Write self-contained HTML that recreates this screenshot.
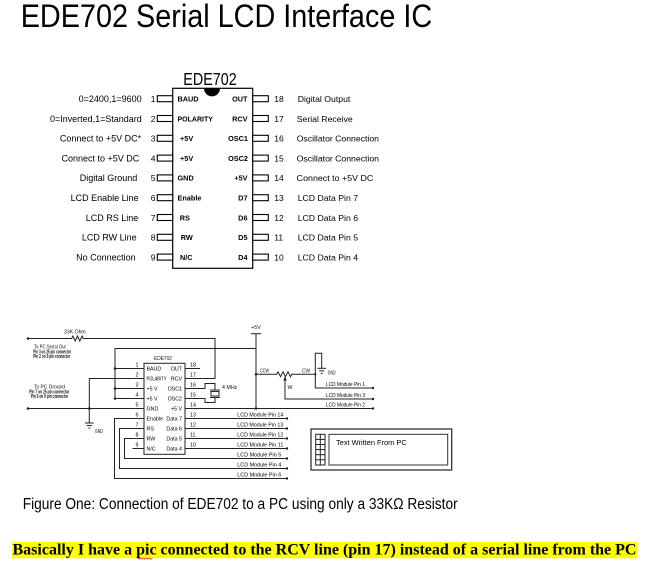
<!DOCTYPE html>
<html><head><meta charset="utf-8"><style>
html,body{margin:0;padding:0;background:#fff;}
svg{display:block;}
text{font-family:"Liberation Sans",sans-serif;fill:#000;}
.s{font-size:5.3px;fill:#111;}
.b{font-weight:bold;}
.ln{stroke:#222;stroke-width:1;fill:none;}
</style></head><body>
<svg width="650" height="563" viewBox="0 0 650 563" xmlns="http://www.w3.org/2000/svg">
<rect width="650" height="563" fill="#fff"/>
<!-- Title -->
<text x="20.7" y="27" font-size="32" textLength="411.5" lengthAdjust="spacingAndGlyphs">EDE702 Serial LCD Interface IC</text>

<!-- Pinout diagram -->
<text x="183.3" y="85" font-size="17.5" textLength="53.4" lengthAdjust="spacingAndGlyphs">EDE702</text>
<rect x="172.7" y="88.3" width="80" height="180" fill="#fff" stroke="#000" stroke-width="1.2"/>
<path d="M204,88.3 A8,8 0 0 0 220,88.3 Z" fill="#000"/>
<g stroke="#000" stroke-width="1.1" fill="#fff">
<rect x="157.3" y="95.7" width="15.4" height="6"/>
<rect x="157.3" y="115.5" width="15.4" height="6"/>
<rect x="157.3" y="135.3" width="15.4" height="6"/>
<rect x="157.3" y="155.1" width="15.4" height="6"/>
<rect x="157.3" y="174.9" width="15.4" height="6"/>
<rect x="157.3" y="194.7" width="15.4" height="6"/>
<rect x="157.3" y="214.5" width="15.4" height="6"/>
<rect x="157.3" y="234.3" width="15.4" height="6"/>
<rect x="157.3" y="254.1" width="15.4" height="6"/>
<rect x="252.7" y="95.7" width="15.6" height="6"/>
<rect x="252.7" y="115.5" width="15.6" height="6"/>
<rect x="252.7" y="135.3" width="15.6" height="6"/>
<rect x="252.7" y="155.1" width="15.6" height="6"/>
<rect x="252.7" y="174.9" width="15.6" height="6"/>
<rect x="252.7" y="194.7" width="15.6" height="6"/>
<rect x="252.7" y="214.5" width="15.6" height="6"/>
<rect x="252.7" y="234.3" width="15.6" height="6"/>
<rect x="252.7" y="254.1" width="15.6" height="6"/>
</g>
<g font-size="9" text-anchor="end">
<text x="141.7" y="102">0=2400,1=9600</text>
<text x="141.7" y="121.8" textLength="91.7" lengthAdjust="spacingAndGlyphs">0=Inverted,1=Standard</text>
<text x="141.2" y="141.6">Connect to +5V DC*</text>
<text x="139.3" y="161.4">Connect to +5V DC</text>
<text x="137.3" y="181.2">Digital Ground</text>
<text x="138.7" y="201">LCD Enable Line</text>
<text x="138.3" y="220.8">LCD RS Line</text>
<text x="136.7" y="240.6">LCD RW Line</text>
<text x="135.7" y="260.4">No Connection</text>
</g>
<g font-size="8.5" text-anchor="end">
<text x="155.5" y="102">1</text><text x="155.5" y="121.8">2</text><text x="155.5" y="141.6">3</text>
<text x="155.5" y="161.4">4</text><text x="155.5" y="181.2">5</text><text x="155.5" y="201">6</text>
<text x="155.5" y="220.8">7</text><text x="155.5" y="240.6">8</text><text x="155.5" y="260.4">9</text>
</g>
<g font-size="8.5">
<text x="274.3" y="102">18</text><text x="274.3" y="121.8">17</text><text x="274.3" y="141.6">16</text>
<text x="274.3" y="161.4">15</text><text x="274.3" y="181.2">14</text><text x="274.3" y="201">13</text>
<text x="274.3" y="220.8">12</text><text x="274.3" y="240.6">11</text><text x="274.3" y="260.4">10</text>
</g>
<g font-size="7.3" font-weight="bold">
<text x="177.5" y="101.5">BAUD</text>
<text x="177.5" y="121.3" textLength="35.4" lengthAdjust="spacingAndGlyphs">POLARITY</text>
<text x="180" y="141.1">+5V</text>
<text x="180" y="160.9">+5V</text>
<text x="177.5" y="180.7">GND</text>
<text x="177.5" y="200.5">Enable</text>
<text x="179.7" y="220.3">RS</text>
<text x="180.7" y="240.1">RW</text>
<text x="180" y="259.9">N/C</text>
</g>
<g font-size="7.3" font-weight="bold" text-anchor="end">
<text x="247.5" y="101.5">OUT</text>
<text x="247.5" y="121.3">RCV</text>
<text x="248" y="141.1">OSC1</text>
<text x="248" y="160.9">OSC2</text>
<text x="247.5" y="180.7">+5V</text>
<text x="247.5" y="200.5">D7</text>
<text x="247.5" y="220.3">D6</text>
<text x="247.5" y="240.1">D5</text>
<text x="247.5" y="259.9">D4</text>
</g>
<g font-size="8.7">
<text x="297.7" y="102">Digital Output</text>
<text x="296.7" y="121.8">Serial Receive</text>
<text x="296.7" y="141.6" textLength="82.3" lengthAdjust="spacingAndGlyphs">Oscillator Connection</text>
<text x="296.7" y="161.4" textLength="82.3" lengthAdjust="spacingAndGlyphs">Oscillator Connection</text>
<text x="296.7" y="181.2" textLength="76.6" lengthAdjust="spacingAndGlyphs">Connect to +5V DC</text>
<text x="297.7" y="201">LCD Data Pin 7</text>
<text x="297.7" y="220.8">LCD Data Pin 6</text>
<text x="297.7" y="240.6">LCD Data Pin 5</text>
<text x="297.7" y="260.4">LCD Data Pin 4</text>
</g>

<!-- Schematic -->
<g class="ln">
<!-- serial out line with resistor -->
<polyline points="28,338.5 71.7,338.5 72.9,336 75.2,341 77.5,336 79.8,341 82.1,336 83.3,338.5 215,338.5 215,378.5 185,378.5"/>
<!-- +5V bus -->
<polyline points="256,348.5 115,348.5 115,398.5"/>
<line x1="115" y1="368.5" x2="144" y2="368.5"/>
<line x1="115" y1="388.5" x2="144" y2="388.5"/>
<line x1="115" y1="398.5" x2="144" y2="398.5"/>
<line x1="256" y1="333.7" x2="256" y2="408.5"/>
<line x1="251" y1="333.7" x2="261" y2="333.7"/>
<!-- polarity to gnd -->
<polyline points="144,378.5 89.3,378.5 89.3,423"/>
<line x1="85" y1="423" x2="93.6" y2="423"/>
<line x1="86.8" y1="425.5" x2="91.8" y2="425.5"/>
<line x1="88.3" y1="428" x2="90.3" y2="428"/>
<!-- PC ground -->
<line x1="28" y1="408.5" x2="144" y2="408.5"/>
<!-- pin14 to LCD pin 2 -->
<line x1="185" y1="408.5" x2="373" y2="408.5"/>
<!-- pin 18 -->
<line x1="185" y1="368.5" x2="200" y2="368.5"/>
<!-- crystal -->
<polyline points="185,388.5 205,388.5 205,383.5 215,383.5 215,390"/>
<polyline points="185,398.5 205,398.5 205,402.5 215,402.5 215,397.5"/>
<line x1="210" y1="390" x2="220" y2="390"/>
<rect x="211" y="391.5" width="8" height="4.5"/>
<line x1="210" y1="397.5" x2="220" y2="397.5"/>
<!-- data lines -->
<line x1="185" y1="418.5" x2="287" y2="418.5"/>
<line x1="185" y1="428.5" x2="287" y2="428.5"/>
<line x1="185" y1="438.5" x2="287" y2="438.5"/>
<line x1="185" y1="448.5" x2="287" y2="448.5"/>
<!-- left loops -->
<polyline points="144,418.5 114.5,418.5 114.5,478.5 287,478.5"/>
<polyline points="144,428.5 119.5,428.5 119.5,468.5 287,468.5"/>
<polyline points="144,438.5 124.5,438.5 124.5,458.5 287,458.5"/>
<line x1="132.5" y1="448.5" x2="144" y2="448.5"/>
<!-- pot -->
<polyline points="256,374.3 276.7,374.3 278,371.8 280.5,376.8 283,371.8 285.5,376.8 288,371.8 290.5,376.8 291.7,374.3 315.3,374.3"/>
<polyline points="315.3,374.3 315.3,353.3 321.7,353.3 321.7,368.3"/>
<line x1="317.4" y1="368.3" x2="326" y2="368.3"/>
<line x1="319.2" y1="370.8" x2="324.2" y2="370.8"/>
<line x1="320.7" y1="373.3" x2="322.7" y2="373.3"/>
<polyline points="315.3,374.3 315.3,388 373,388"/>
<polyline points="285,379 285,399 373,399"/>
</g>
<polygon points="285,376.5 283.2,380.5 286.8,380.5" fill="#222"/>
<g fill="#222">
<circle cx="28" cy="338.5" r="1.3"/>
<circle cx="115" cy="368.5" r="1.3"/>
<circle cx="115" cy="388.5" r="1.3"/>
<circle cx="115" cy="398.5" r="1.3"/>
<circle cx="28" cy="408.5" r="1.3"/>
<circle cx="89.3" cy="408.5" r="1.3"/>
<circle cx="256" cy="408.5" r="1.3"/>
<circle cx="256" cy="374.3" r="1.3"/>
<circle cx="315.3" cy="374.3" r="1.1"/>
<circle cx="373" cy="388" r="1.2"/>
<circle cx="373" cy="399" r="1.2"/>
<circle cx="373" cy="408.5" r="1.2"/>
<circle cx="287" cy="418.5" r="1.2"/>
<circle cx="287" cy="428.5" r="1.2"/>
<circle cx="287" cy="438.5" r="1.2"/>
<circle cx="287" cy="448.5" r="1.2"/>
<circle cx="287" cy="458.5" r="1.2"/>
<circle cx="287" cy="468.5" r="1.2"/>
<circle cx="287" cy="478.5" r="1.2"/>
</g>
<!-- chip -->
<rect x="144" y="363.3" width="41" height="91" fill="#fff" stroke="#222" stroke-width="1"/>
<text class="s" x="154" y="360" textLength="18" lengthAdjust="spacingAndGlyphs">EDE702</text>
<g class="s" font-size="5">
<text x="146.5" y="370.3">BAUD</text>
<text x="146.5" y="380.3" textLength="20" lengthAdjust="spacingAndGlyphs">POLARITY</text>
<text x="146.5" y="390.3">+5 V</text>
<text x="146.5" y="400.3">+5 V</text>
<text x="146.5" y="410.3">GND</text>
<text x="146.5" y="420.3">Enable</text>
<text x="146.5" y="430.3">RS</text>
<text x="146.5" y="440.3">RW</text>
<text x="146.5" y="450.3">N/C</text>
</g>
<g class="s" font-size="5" text-anchor="end">
<text x="182" y="370.3">OUT</text>
<text x="182" y="380.3">RCV</text>
<text x="182" y="390.3">OSC1</text>
<text x="182" y="400.3">OSC2</text>
<text x="182" y="410.3">+5 V</text>
<text x="182" y="420.3">Data 7</text>
<text x="182" y="430.3">Data 6</text>
<text x="182" y="440.3">Data 5</text>
<text x="182" y="450.3">Data 4</text>
</g>
<g class="s" font-size="5" text-anchor="middle">
<text x="137" y="366.5">1</text><text x="137" y="376.5">2</text><text x="137" y="386.5">3</text>
<text x="137" y="396.5">4</text><text x="137" y="406.5">5</text><text x="137" y="416.5">6</text>
<text x="137" y="426.5">7</text><text x="137" y="436.5">8</text><text x="137" y="446.5">9</text>
</g>
<g class="s" font-size="5">
<text x="190" y="366.5">18</text><text x="190" y="376.5">17</text><text x="190" y="386.5">16</text>
<text x="190" y="396.5">15</text><text x="190" y="406.5">14</text><text x="190" y="416.5">13</text>
<text x="190" y="426.5">12</text><text x="190" y="436.5">11</text><text x="190" y="446.5">10</text>
</g>
<text class="s" x="222" y="389" font-size="4.8">4 MHz</text>
<text class="s" x="256" y="329" font-size="4.5" text-anchor="middle">+5V</text>
<text class="s" x="64" y="333.5" textLength="21.7" lengthAdjust="spacingAndGlyphs">33K Ohm</text>
<text class="s" x="34" y="348.5" textLength="31.7" lengthAdjust="spacingAndGlyphs">To PC Serial Out</text>
<text class="s b" x="33.3" y="353.5" font-size="4" textLength="37.7" lengthAdjust="spacingAndGlyphs">Pin 3 on 25 pin connector</text>
<text class="s b" x="33.3" y="358" font-size="4" textLength="37" lengthAdjust="spacingAndGlyphs">Pin 2 on 9 pin connector</text>
<text class="s" x="34" y="388.5" textLength="31" lengthAdjust="spacingAndGlyphs">To PC Ground</text>
<text class="s b" x="29.3" y="393.5" font-size="4" textLength="40" lengthAdjust="spacingAndGlyphs">Pin 7 on 25 pin connector</text>
<text class="s b" x="30.7" y="398" font-size="4" textLength="37.6" lengthAdjust="spacingAndGlyphs">Pin 5 on 9 pin connector</text>
<text class="s" x="95" y="433" textLength="8" lengthAdjust="spacingAndGlyphs">GND</text>
<text class="s" x="260" y="372.5" font-size="4.8" textLength="9" lengthAdjust="spacingAndGlyphs">CCW</text>
<text class="s" x="302" y="372.5" font-size="4.8" textLength="8" lengthAdjust="spacingAndGlyphs">CW</text>
<text class="s" x="327.7" y="374.7" font-size="4.5" textLength="8" lengthAdjust="spacingAndGlyphs">GND</text>
<text class="s" x="287.5" y="389" font-size="4.5">W</text>
<g class="s">
<text x="326" y="386" textLength="39" lengthAdjust="spacingAndGlyphs">LCD Module Pin 1</text>
<text x="326" y="397" textLength="39" lengthAdjust="spacingAndGlyphs">LCD Module Pin 3</text>
<text x="326" y="406.5" textLength="39" lengthAdjust="spacingAndGlyphs">LCD Module Pin 2</text>
<text x="237.3" y="416.5" textLength="46" lengthAdjust="spacingAndGlyphs">LCD Module Pin 14</text>
<text x="237.3" y="426.5" textLength="46" lengthAdjust="spacingAndGlyphs">LCD Module Pin 13</text>
<text x="237.3" y="436.5" textLength="46" lengthAdjust="spacingAndGlyphs">LCD Module Pin 12</text>
<text x="237.3" y="446.5" textLength="46" lengthAdjust="spacingAndGlyphs">LCD Module Pin 11</text>
<text x="237.3" y="456.5" textLength="44" lengthAdjust="spacingAndGlyphs">LCD Module Pin 5</text>
<text x="237.3" y="466.5" textLength="44" lengthAdjust="spacingAndGlyphs">LCD Module Pin 4</text>
<text x="237.3" y="476.3" textLength="44" lengthAdjust="spacingAndGlyphs">LCD Module Pin 6</text>
</g>
<!-- LCD display -->
<rect x="311" y="429" width="140.7" height="41" fill="none" stroke="#333" stroke-width="1.3"/>
<rect x="329" y="434.3" width="118.7" height="30.7" fill="none" stroke="#333" stroke-width="1"/>
<g class="ln" stroke="#333">
<rect x="315.7" y="434.3" width="9.3" height="30.7"/>
<line x1="320.3" y1="434.3" x2="320.3" y2="465"/>
<line x1="315.7" y1="439.4" x2="325" y2="439.4"/>
<line x1="315.7" y1="444.5" x2="325" y2="444.5"/>
<line x1="315.7" y1="449.6" x2="325" y2="449.6"/>
<line x1="315.7" y1="454.7" x2="325" y2="454.7"/>
<line x1="315.7" y1="459.8" x2="325" y2="459.8"/>
</g>
<text x="336" y="445" font-size="7" fill="#111" textLength="70.7" lengthAdjust="spacingAndGlyphs">Text Written From PC</text>

<!-- caption -->
<text x="22.7" y="509" font-size="15.5" textLength="435" lengthAdjust="spacingAndGlyphs">Figure One: Connection of EDE702 to a PC using only a 33KΩ Resistor</text>

<!-- highlighted note -->
<rect x="12" y="541.7" width="625" height="16.6" fill="#ffff00"/>
<text x="12.5" y="554.5" font-family="Liberation Serif, serif" font-weight="bold" font-size="16" style="font-family:'Liberation Serif',serif" textLength="624" lengthAdjust="spacingAndGlyphs">Basically I have a pic connected to the RCV line (pin 17) instead of a serial line from the PC</text>
<polyline points="137.5,558 139,559.3 140.5,558 142,559.3 143.5,558 145,559.3 146.5,558 148,559.3 149.5,558 151,559.3 152.5,558" fill="none" stroke="#e02020" stroke-width="0.7"/>
</svg>
</body></html>
